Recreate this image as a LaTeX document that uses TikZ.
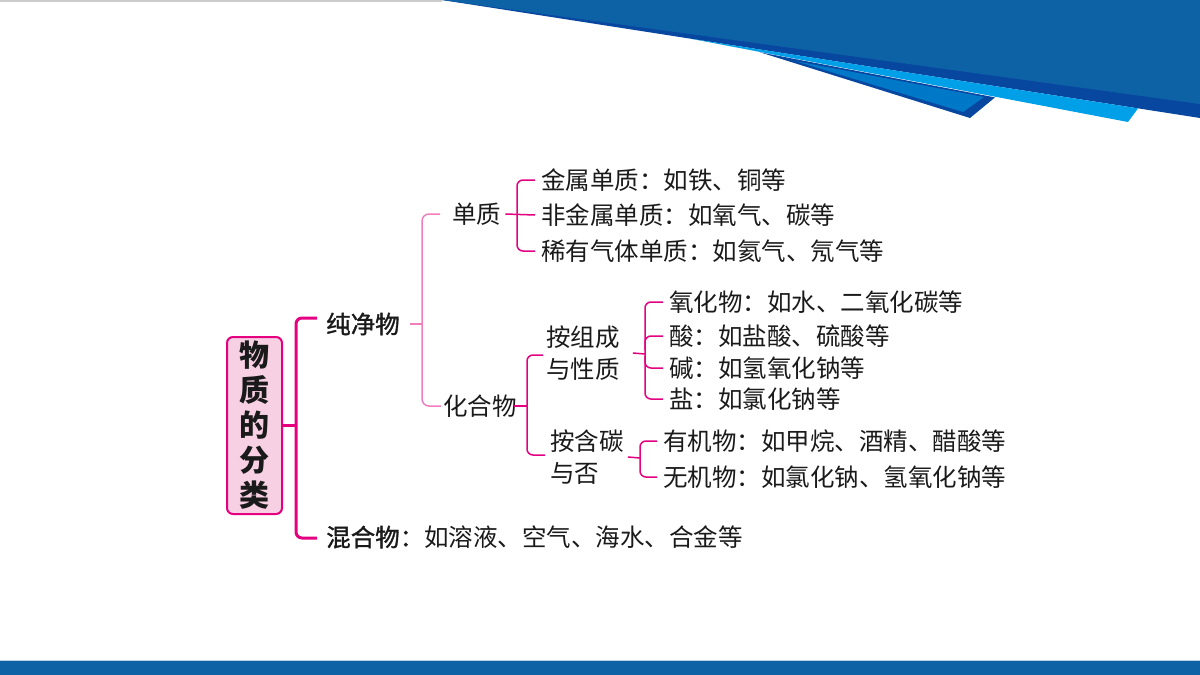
\documentclass[tikz,border=0pt]{standalone}
\usepackage{fontspec}
\newfontfamily\cjk{Noto Sans CJK SC}
\newfontfamily\cjkmed{Noto Sans CJK SC}[FakeBold=1.2]
\definecolor{bmain}{HTML}{0D62A6}
\definecolor{bnavy}{HTML}{0747A0}
\definecolor{bcyan}{HTML}{00A0E8}
\definecolor{bmid}{HTML}{0078C8}
\definecolor{mag}{HTML}{E4007F}
\definecolor{pinkline}{HTML}{F07EBE}
\definecolor{boxfill}{HTML}{F8D0E4}
\definecolor{ink}{HTML}{1A1A1A}
\tikzset{
  txt/.style={anchor=west, inner sep=0pt, text=ink, align=left,
    font=\cjk\fontsize{24.5}{32}\selectfont},
  btxt/.style={txt, font=\cjkmed\fontsize{24.5}{32}\selectfont},
  rootbox/.style={draw=mag, line width=2pt, fill=boxfill, rounded corners=6pt,
    minimum width=55pt, minimum height=177pt, inner sep=0pt, align=center, text=ink,
    font=\cjk\bfseries\fontsize{30}{35}\selectfont},
  mainbr/.style={draw=mag, line width=3pt, rounded corners=6pt},
  pbr/.style={draw=pinkline, line width=1.5pt, rounded corners=7pt},
  br/.style={draw=mag, line width=1.5pt, rounded corners=6pt}
}
\begin{document}
\begin{tikzpicture}[x=1pt,y=-1pt]
\useasboundingbox (0,0) rectangle (1200,675);
% banner
\draw[color=black!20, line width=2pt] (0,0.5) -- (442,0.5);
\fill[bnavy] (442,0) -- (1200,0) -- (1200,118) -- cycle;
\fill[bmain] (442,0) -- (1200,0) -- (1200,104) -- cycle;
\fill[bcyan] (690,38.6) -- (1128,122) -- (1138,108.4) -- cycle;
\fill[bnavy] (760,52.3) -- (970,118) -- (995,97.4) -- cycle;
\fill[bmid] (795,61) -- (963,112) -- (984,97) -- cycle;
% bottom bar
\fill[bmain] (0,661) rectangle (1200,675);
\draw[color=bmain!30, line width=1pt] (0,660.5) -- (1200,660.5);
% nodes
\node[rootbox] (root) at (254.5,425.5) {物\\质\\的\\分\\类};
\node[btxt] (cjw) at (326,324) {纯净物};
\node[txt] (hh) at (326,537) {{\cjkmed 混合物：}如溶液、空气、海水、合金等};
\node[txt] (dz) at (452,214) {单质};
\node[txt] (a1) at (541,180) {金属单质：如铁、铜等};
\node[txt] (a2) at (541,215) {非金属单质：如氧气、碳等};
\node[txt] (a3) at (541,251) {稀有气体单质：如氦气、氖气等};
\node[txt] (hhw) at (443,406) {化合物};
\node[txt] (zc) at (546,353) {按组成\\与性质};
\node[txt] (b1) at (669,302) {氧化物：如水、二氧化碳等};
\node[txt] (b2) at (669,336) {酸：如盐酸、硫酸等};
\node[txt] (b3) at (669,368) {碱：如氢氧化钠等};
\node[txt] (b4) at (669,399) {盐：如氯化钠等};
\node[txt] (ht) at (550,457) {按含碳\\与否};
\node[txt] (c1) at (663,441) {有机物：如甲烷、酒精、醋酸等};
\node[txt] (c2) at (663,477) {无机物：如氯化钠、氢氧化钠等};
% main bracket
\coordinate (m) at (296,425.5);
\draw[mainbr] (317,318) -- (296,318) -- (296,538) -- (317,538);
\draw[mainbr] (root.east) -- (m);
% pure substance bracket
\draw[pbr] ([xshift=-12pt]dz.west) -| (422,324) |- ([xshift=-2pt]hhw.west);
\draw[pbr] ([xshift=10pt]cjw.east) -- (422,324);
% element bracket
\draw[br] ([xshift=-6pt]a1.west) -| (517,214) |- ([xshift=-6pt]a3.west);
\draw[br] ([xshift=4pt]dz.east) -- ([xshift=-6pt]a2.west);
% compound bracket
\draw[br] ([xshift=-3pt,yshift=-2pt]zc.west) -| (527,406) |- ([xshift=-5pt,yshift=2pt]ht.west);
\draw[br] ([xshift=-3pt]hhw.east) -- (527,406);
% composition bracket
\draw[br] ([xshift=-6pt]b1.west) -| (645,354) |- ([xshift=-6pt]b4.west);
\draw[br] ([xshift=-6pt]b2.west) -| (645,350);
\draw[br] ([xshift=-6pt]b3.west) -| (645,356);
\draw[br] ([xshift=13pt]zc.east) -- (645,354);
% carbon bracket
\draw[br] ([xshift=-6pt]c1.west) -| (640,458) |- ([xshift=-6pt]c2.west);
\draw[br] ([xshift=4pt]ht.east) -- (640,458);
\end{tikzpicture}
\end{document}
